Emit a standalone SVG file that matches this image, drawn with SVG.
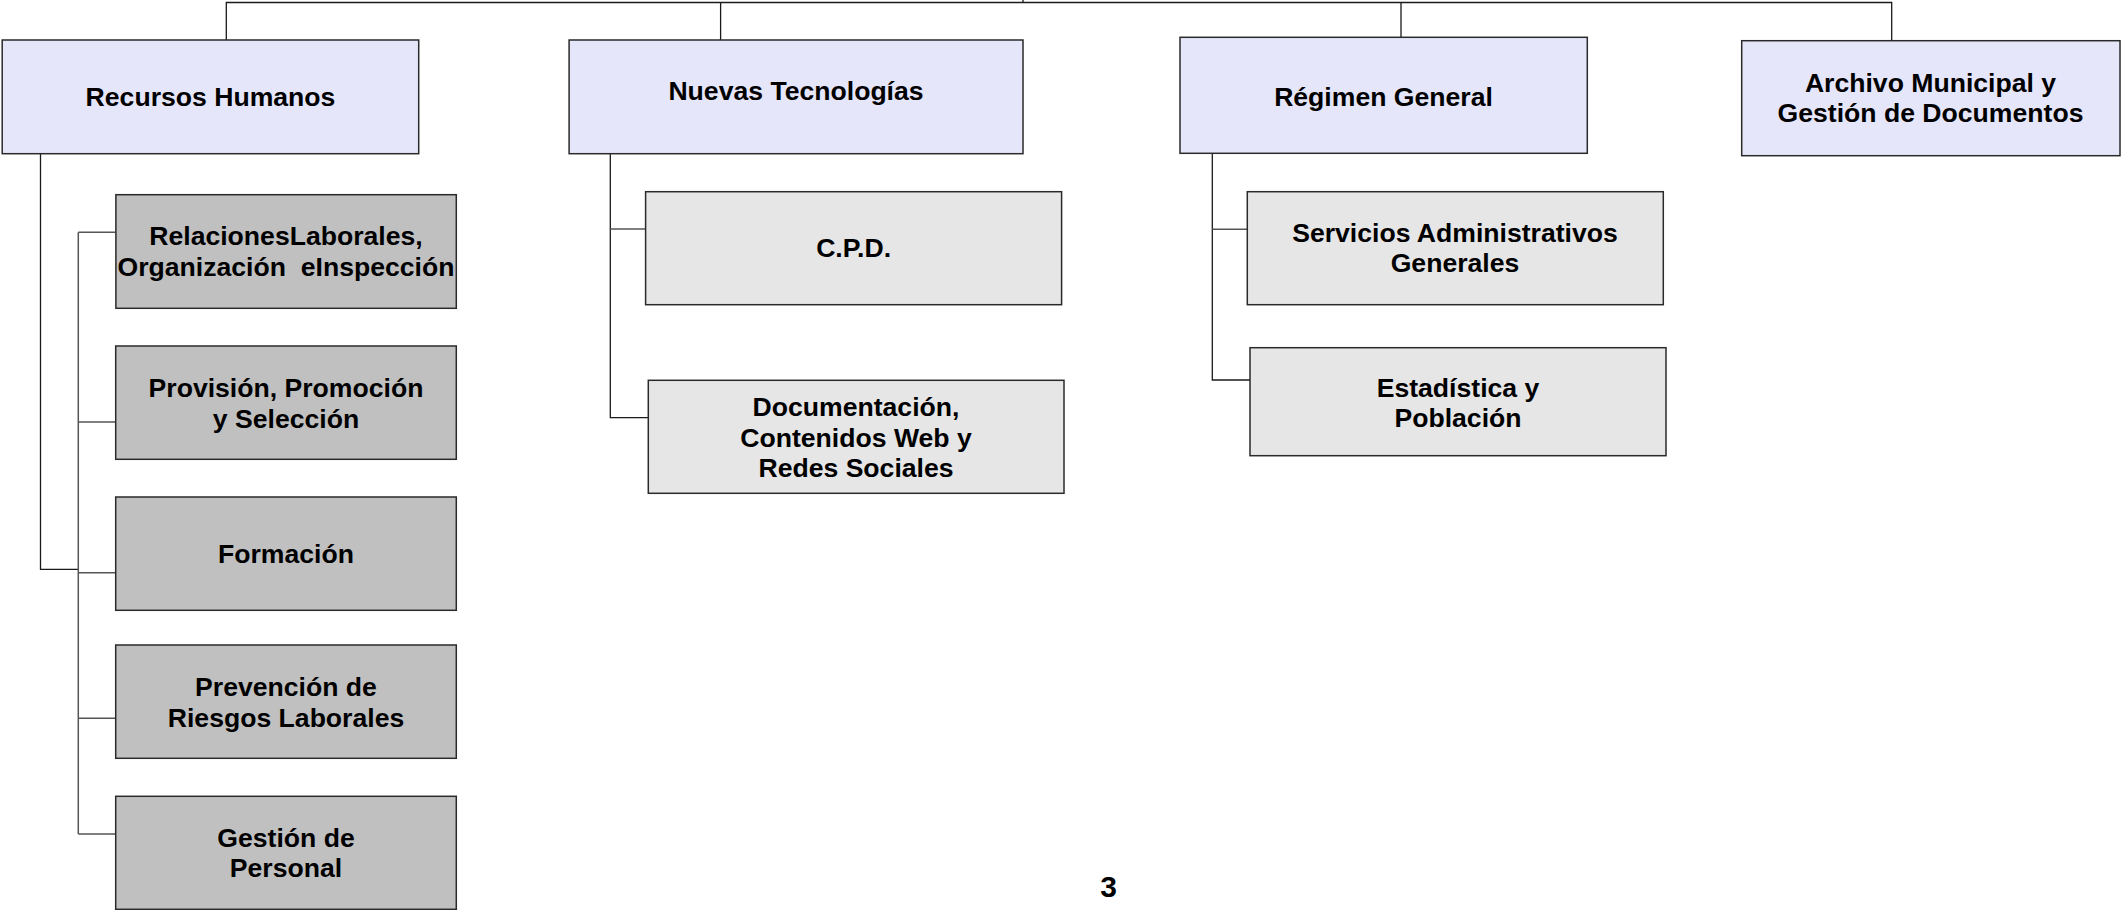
<svg xmlns="http://www.w3.org/2000/svg" width="2121" height="910" viewBox="0 0 2121 910">
<style>
.top{fill:#e6e6fa;stroke:#2a2a2a;stroke-width:1.5}
.dk{fill:#c0c0c0;stroke:#2a2a2a;stroke-width:1.5}
.lt{fill:#e6e6e6;stroke:#2a2a2a;stroke-width:1.5}
.t{font-family:"Liberation Sans",Arial,sans-serif;font-weight:bold;font-size:26.6px;fill:#000;text-anchor:middle}
.c{fill:none;stroke:#1a1a1a;stroke-width:1.3}
.s{fill:none;stroke:#555;stroke-width:1.5}
</style>
<rect width="2121" height="910" fill="#fff"/>
<g id="connectors">
<path class="c" d="M1023,0 V2.5 M226.3,40 V2.5 H1891.7 V40 M720.6,2.5 V40 M1401,2.5 V40"/>
<path class="c" d="M40.5,153.7 V569.3 H78.3"/>
<path class="s" d="M78.3,232.3 V834 M78.3,232.3 H115.7 M78.3,422 H115.7 M78.3,572.7 H115.7 M78.3,718.3 H115.7 M78.3,834 H115.7"/>
<path class="c" d="M610.3,153.7 V417.7 H648.3"/>
<path class="s" d="M610.3,229 H645.6"/>
<path class="c" d="M1212.3,153.3 V380 H1250"/>
<path class="s" d="M1212.3,229.3 H1247.3"/>
</g>
<g id="recursos-humanos">
<rect class="top" x="2.2" y="40" width="416.5" height="113.7"/>
<text class="t" x="210.5" y="106">Recursos Humanos</text>
</g>
<g id="nuevas-tecnologias">
<rect class="top" x="569.1" y="40" width="453.9" height="113.7"/>
<text class="t" x="796" y="100">Nuevas Tecnologías</text>
</g>
<g id="regimen-general">
<rect class="top" x="1180" y="37.3" width="407.3" height="116"/>
<text class="t" x="1383.5" y="105.5">Régimen General</text>
</g>
<g id="archivo-municipal">
<rect class="top" x="1741.7" y="40.7" width="378.3" height="115"/>
<text class="t" x="1930.5" y="92">Archivo Municipal y</text>
<text class="t" x="1930.5" y="122">Gestión de Documentos</text>
</g>
<g id="relaciones-laborales">
<rect class="dk" x="115.9" y="194.7" width="340.4" height="113.6"/>
<text class="t" x="286" y="245">RelacionesLaborales,</text>
<text class="t" x="286" y="276" xml:space="preserve">Organización  eInspección</text>
</g>
<g id="provision">
<rect class="dk" x="115.7" y="346" width="340.6" height="113.3"/>
<text class="t" x="286" y="396.7">Provisión, Promoción</text>
<text class="t" x="286" y="427.7">y Selección</text>
</g>
<g id="formacion">
<rect class="dk" x="115.7" y="497" width="340.6" height="113.3"/>
<text class="t" x="286" y="563.3">Formación</text>
</g>
<g id="prevencion">
<rect class="dk" x="115.7" y="645" width="340.6" height="113.3"/>
<text class="t" x="286" y="696.3">Prevención de</text>
<text class="t" x="286" y="726.5">Riesgos Laborales</text>
</g>
<g id="gestion-personal">
<rect class="dk" x="115.7" y="796.3" width="340.6" height="113"/>
<text class="t" x="286" y="846.7">Gestión de</text>
<text class="t" x="286" y="877.3">Personal</text>
</g>
<g id="cpd">
<rect class="lt" x="645.6" y="191.7" width="416" height="113"/>
<text class="t" x="853.6" y="257">C.P.D.</text>
</g>
<g id="documentacion">
<rect class="lt" x="648.3" y="380.3" width="415.7" height="113"/>
<text class="t" x="856" y="416">Documentación,</text>
<text class="t" x="856" y="446.5">Contenidos Web y</text>
<text class="t" x="856" y="477">Redes Sociales</text>
</g>
<g id="servicios-administrativos">
<rect class="lt" x="1247.3" y="191.7" width="416" height="113"/>
<text class="t" x="1455" y="241.7">Servicios Administrativos</text>
<text class="t" x="1455" y="272.3">Generales</text>
</g>
<g id="estadistica">
<rect class="lt" x="1250" y="347.7" width="416" height="108"/>
<text class="t" x="1458" y="396.7">Estadística y</text>
<text class="t" x="1458" y="426.7">Población</text>
</g>
<text id="page-number" x="1108.7" y="896.7" font-family="Liberation Sans, Arial, sans-serif" font-weight="bold" font-size="30" text-anchor="middle">3</text>
</svg>
